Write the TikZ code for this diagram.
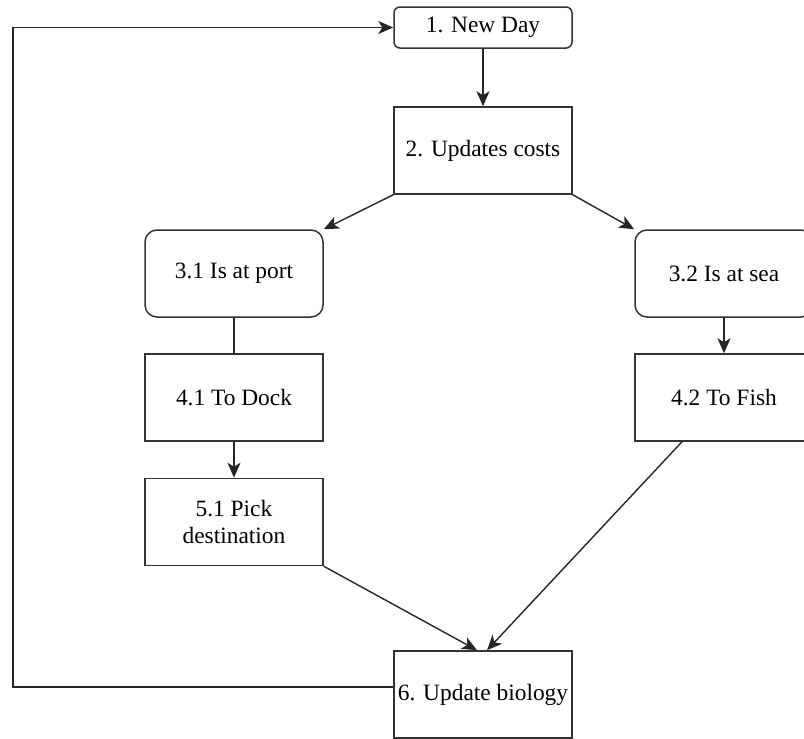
\documentclass[tikz,border=0pt]{standalone}
\usepackage{fontspec}
\setmainfont{Liberation Serif}
\usepackage{tikz}
\usetikzlibrary{positioning,calc,arrows.meta}

\begin{document}
\begin{tikzpicture}[x=1pt,y=-1pt,
    box/.style={draw=black!80,line width=1.5pt,fill=white,minimum width=178pt,minimum height=87pt,align=center,inner sep=0pt,font=\fontsize{23.4}{27}\selectfont},
    rbox/.style={box,rounded corners=12pt},
    conn/.style={draw=black!85,line width=1.4pt},
    arr/.style={conn,-{Stealth[length=15pt,width=13pt,inset=4pt]}}]

        \useasboundingbox (0,0) rectangle (804,739);
        \clip (0,0) rectangle (804,739);

        \node[rbox,minimum height=41pt,rounded corners=6pt] (n1) at (483,27.5) {1. New Day};
        \node[box] (n2) at (483,150.5) {2. Updates costs};
        \node[rbox] (n31) at (234,273.5) {3.1 Is at port};
        \node[rbox] (n32) at (724,273.5) {3.2 Is at sea};
        \node[box] (n41) at (234,397.5) {4.1 To Dock};
        \node[box] (n42) at (724,397.5) {4.2 To Fish};
        \node[box] (n51) at (234,522) {5.1 Pick\\destination};
        \node[box] (n6) at (483,694.5) {6. Update biology};

        \coordinate (corner) at (13,27.5);

        \draw[arr] (n1) to (n2);
        \draw[arr] (n2.south west) to (n31.north east);
        \draw[arr] (n2.south east) to (n32.north west);
        \draw[conn] (n31) to (n41);
        \draw[arr] (n32) to (n42);
        \draw[arr] (n41) to (n51);
        \draw[arr] (n51.south east) to ([xshift=-6pt]n6.north);
        \draw[arr] ([xshift=-42pt]n42.south) to ([xshift=4pt]n6.north);
        \draw[arr] ([yshift=7.5pt]n6.west) -| (corner) -- (n1.west);
    \end{tikzpicture}
\end{document}
